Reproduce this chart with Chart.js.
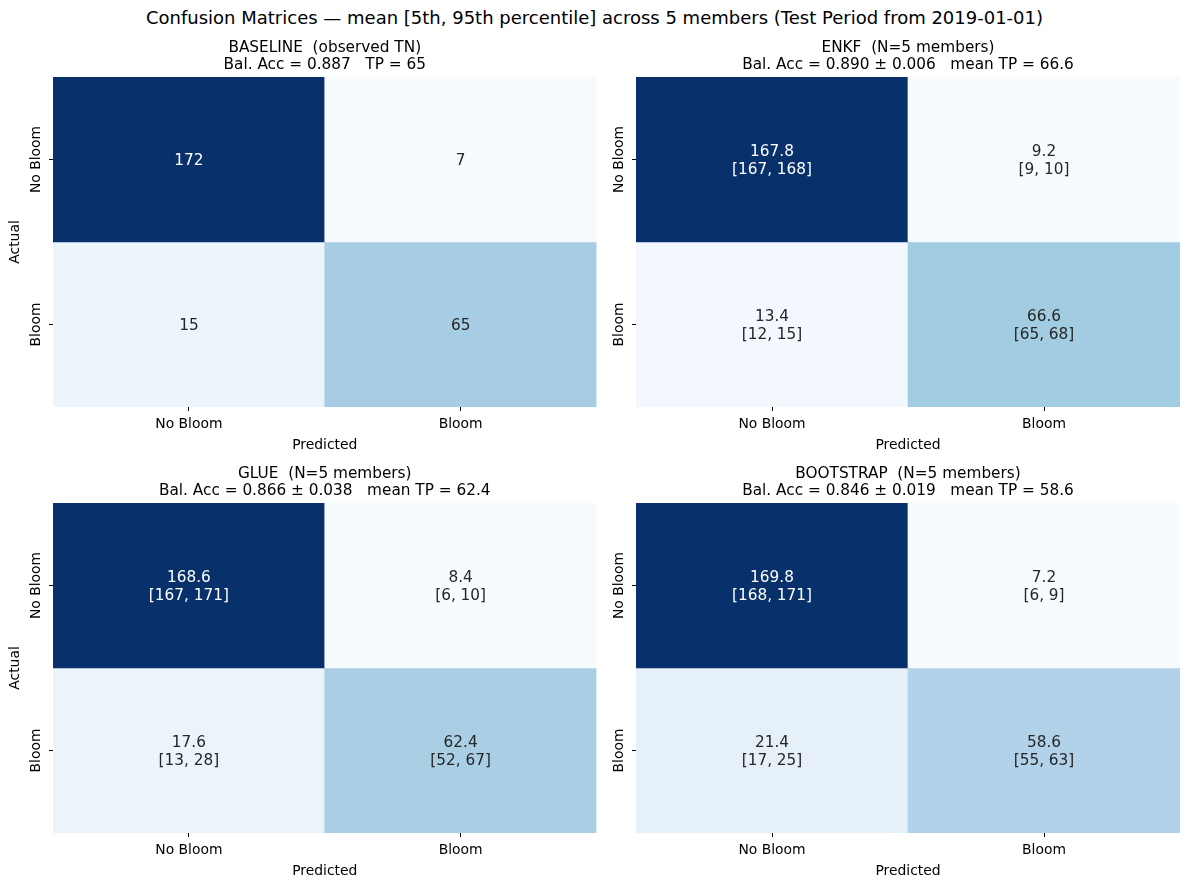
<!DOCTYPE html>
<html><head><meta charset="utf-8">
<script src="https://cdn.jsdelivr.net/npm/chart.js@4.4.0/dist/chart.umd.min.js"></script>
<style>
html,body{margin:0;padding:0;background:#fff;}
body{width:1189px;height:886px;position:relative;overflow:hidden;font-family:"DejaVu Sans",sans-serif;}
#sup{position:absolute;left:0;width:1189px;top:7px;text-align:center;font-size:18px;line-height:22px;color:#000;white-space:pre;}
canvas{position:absolute;}
</style></head><body>
<div id="sup">Confusion Matrices — mean [5th, 95th percentile] across 5 members (Test Period from 2019-01-01)</div>
<canvas id="p0"></canvas><canvas id="p1"></canvas><canvas id="p2"></canvas><canvas id="p3"></canvas>
<script>
// ---------- data ----------
const predictedLabels = ['No Bloom', 'Bloom'];
const actualLabels = ['No Bloom', 'Bloom'];
// cells in row-major order: [TN, FP, FN, TP]
const baselineMean = [172, 7, 15, 65];
const enkfMean = [167.8, 9.2, 13.4, 66.6];
const enkfP5   = [167, 9, 12, 65];
const enkfP95  = [168, 10, 15, 68];
const glueMean = [168.6, 8.4, 17.6, 62.4];
const glueP5   = [167, 6, 13, 52];
const glueP95  = [171, 10, 28, 67];
const bootMean = [169.8, 7.2, 21.4, 58.6];
const bootP5   = [168, 6, 17, 55];
const bootP95  = [171, 9, 25, 63];
const titles = [
  ['BASELINE  (observed TN)', 'Bal. Acc = 0.887   TP = 65'],
  ['ENKF  (N=5 members)', 'Bal. Acc = 0.890 ± 0.006   mean TP = 66.6'],
  ['GLUE  (N=5 members)', 'Bal. Acc = 0.866 ± 0.038   mean TP = 62.4'],
  ['BOOTSTRAP  (N=5 members)', 'Bal. Acc = 0.846 ± 0.019   mean TP = 58.6']
];
const panels = [
  {mean: baselineMean, lo: null, hi: null, decimals: 0},
  {mean: enkfMean, lo: enkfP5, hi: enkfP95, decimals: 1},
  {mean: glueMean, lo: glueP5, hi: glueP95, decimals: 1},
  {mean: bootMean, lo: bootP5, hi: bootP95, decimals: 1}
];

// ---------- styling ----------
const FONT = "'DejaVu Sans', sans-serif";
Chart.defaults.font.family = FONT;
const TICK = 13.9, TITLE = 15.3, ANNOT = 15.3;
const BLUES = ['#f7fbff','#deebf7','#c6dbef','#9ecae1','#6baed6','#4292c6','#2171b5','#08519c','#08306b'];
function hex2rgb(h){return [parseInt(h.slice(1,3),16),parseInt(h.slice(3,5),16),parseInt(h.slice(5,7),16)];}
function blues(t){
  t = Math.max(0, Math.min(1, t));
  const p = t * (BLUES.length - 1);
  const i = Math.min(BLUES.length - 2, Math.floor(p));
  const f = p - i;
  const a = hex2rgb(BLUES[i]), b = hex2rgb(BLUES[i+1]);
  return a.map((v, k) => v + (b[k] - v) * f);
}
function rgbStr(c){return 'rgb(' + c.map(v => Math.round(v)).join(',') + ')';}
function lum(c){
  const l = c.map(v => { v /= 255; return v <= 0.03928 ? v / 12.92 : Math.pow((v + 0.055) / 1.055, 2.4); });
  return 0.2126 * l[0] + 0.7152 * l[1] + 0.0722 * l[2];
}

const rects = [
  {L: 53, T: 77, W: 543.5, H: 330},
  {L: 636, T: 77, W: 544, H: 330},
  {L: 53, T: 503, W: 543.5, H: 330},
  {L: 636, T: 503, W: 544, H: 330}
];

const cellText = {
  id: 'cellText',
  afterDatasetsDraw(chart, args, opts) {
    const {ctx, scales: {x, y}} = chart;
    const pnl = opts.panel;
    ctx.save();
    ctx.textAlign = 'center';
    ctx.textBaseline = 'middle';
    ctx.font = ANNOT + 'px ' + FONT;
    pnl.mean.forEach((m, i) => {
      const r = Math.floor(i / 2), c = i % 2;
      const cx = x.getPixelForValue(c);
      const cy = y.getPixelForValue(r + 0.5);
      ctx.fillStyle = opts.textColors[i];
      const s = m.toFixed(pnl.decimals);
      if (pnl.lo) {
        ctx.fillText(s, cx, cy - 7.5);
        ctx.fillText('[' + pnl.lo[i] + ', ' + pnl.hi[i] + ']', cx, cy + 10.5);
      } else {
        ctx.fillText(s, cx, cy + 1.5);
      }
    });
    ctx.restore();
  }
};
const yLabels = {
  id: 'yLabels',
  afterDraw(chart) {
    const {ctx, scales: {y}, chartArea} = chart;
    ctx.save();
    ctx.font = TICK + 'px ' + FONT;
    ctx.fillStyle = '#000';
    ctx.textAlign = 'center';
    ctx.textBaseline = 'middle';
    y.ticks.forEach(t => {
      const py = y.getPixelForValue(t.value);
      ctx.save();
      ctx.translate(chartArea.left - 16.5, py);
      ctx.rotate(-Math.PI / 2);
      ctx.fillText(actualLabels[Math.floor(t.value)], 0, 0);
      ctx.restore();
    });
    ctx.restore();
  }
};

panels.forEach((pnl, idx) => {
  const rc = rects[idx];
  const cv = document.getElementById('p' + idx);
  const cw = Math.ceil(rc.W + 63), ch = rc.H + 100;
  cv.width = cw; cv.height = ch;
  cv.style.left = (rc.L - 53) + 'px';
  cv.style.top = (rc.T - 50) + 'px';
  cv.style.width = cw + 'px'; cv.style.height = ch + 'px';
  const vmin = Math.min(...pnl.mean), vmax = Math.max(...pnl.mean);
  const cols = pnl.mean.map(v => blues((v - vmin) / (vmax - vmin)));
  const textColors = cols.map(c => lum(c) > 0.408 ? '#262626' : '#ffffff');
  const datasets = actualLabels.map((a, r) => ({
    data: predictedLabels.map((p, c) => ({x: p, y: [r, r + 1]})),
    backgroundColor: predictedLabels.map((p, c) => rgbStr(cols[r * 2 + c])),
    borderWidth: 0,
    barPercentage: 1,
    categoryPercentage: 1,
    grouped: false
  }));
  const showActual = (idx % 2 === 0);
  new Chart(cv, {
    type: 'bar',
    data: {labels: predictedLabels, datasets},
    plugins: [cellText, yLabels],
    options: {
      responsive: false,
      animation: false,
      devicePixelRatio: 1,
      layout: {padding: {left: 0, right: cw - rc.W - 53, top: 0, bottom: 0}},
      plugins: {
        legend: {display: false},
        tooltip: {enabled: false},
        title: {
          display: true,
          fullSize: false,
          text: titles[idx],
          color: '#000',
          font: {size: TITLE, weight: 'normal', lineHeight: 17 / TITLE},
          padding: {top: 12.3, bottom: 3.7}
        },
        cellText: {panel: pnl, textColors}
      },
      scales: {
        x: {
          type: 'category',
          offset: true,
          grid: {drawOnChartArea: false, drawTicks: true, tickLength: 4, tickWidth: 1, tickColor: '#000', offset: false},
          border: {display: false},
          ticks: {color: '#000', font: {size: TICK}, padding: 5.5, maxRotation: 0, minRotation: 0},
          title: {display: true, text: 'Predicted', color: '#000', font: {size: TICK}, padding: {top: 0, bottom: 3}},
          afterFit: s => { s.height = 50; }
        },
        y: {
          type: 'linear',
          min: 0, max: 2,
          reverse: true,
          afterBuildTicks: s => { s.ticks = [{value: 0.5}, {value: 1.5}]; },
          grid: {drawOnChartArea: false, drawTicks: true, tickLength: 4, tickWidth: 1, tickColor: '#000'},
          border: {display: false},
          ticks: {color: 'rgba(0,0,0,0)', font: {size: TICK}, callback: v => actualLabels[Math.floor(v)]},
          title: {display: showActual, text: 'Actual', color: '#000', font: {size: TICK}, padding: {top: 7.5, bottom: 0}},
          afterFit: s => { s.width = 53; }
        }
      }
    }
  });
});
</script>
</body></html>
